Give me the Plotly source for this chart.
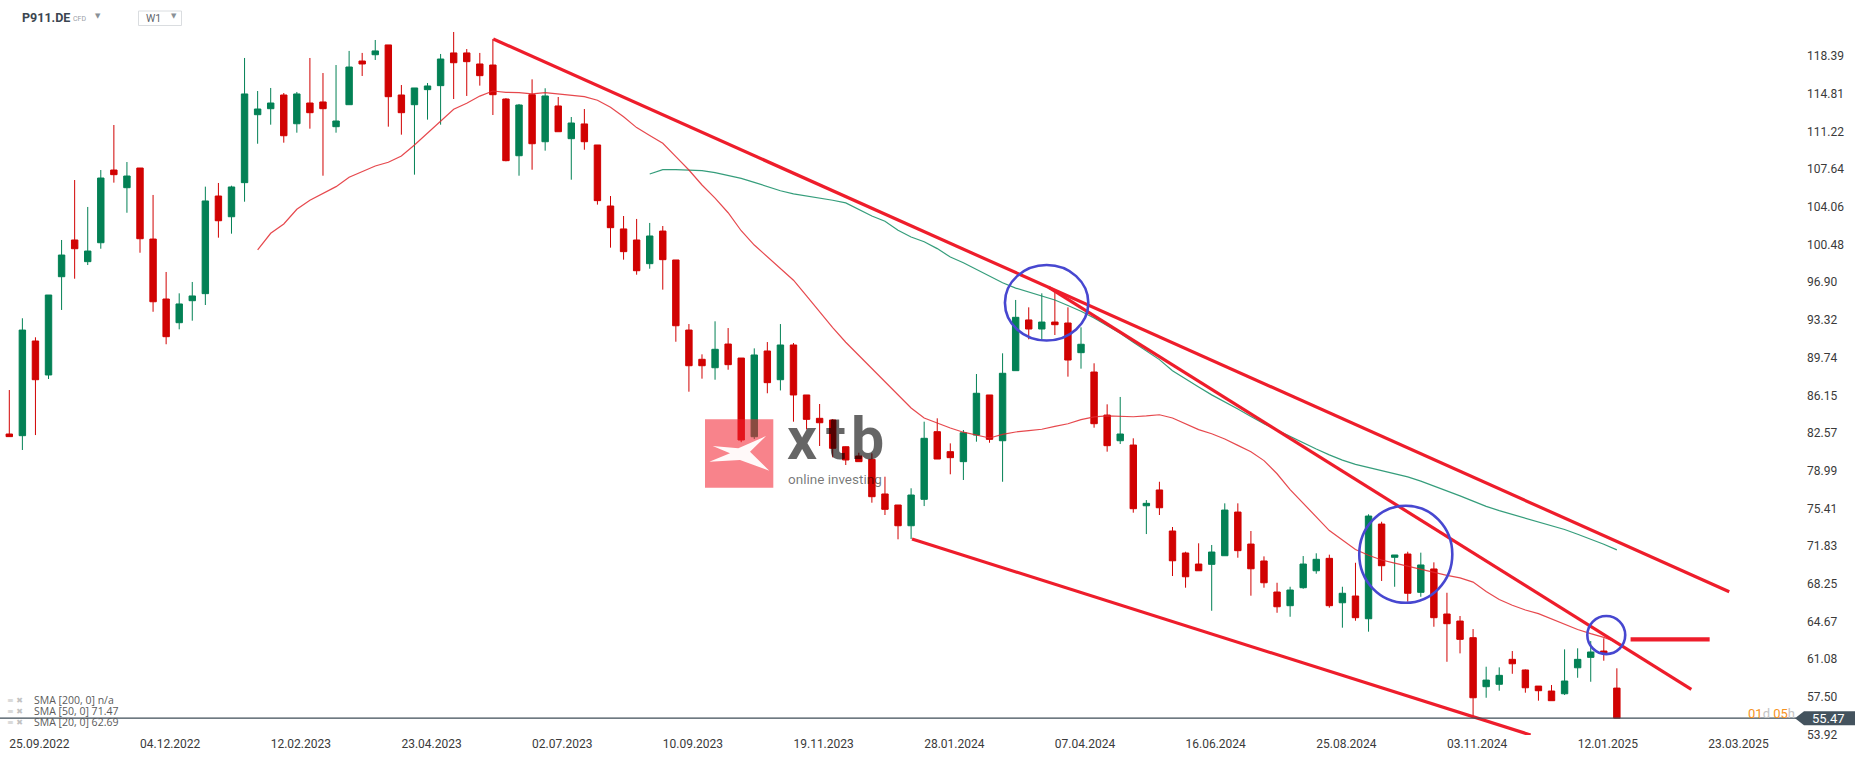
import plotly.graph_objects as go
import pandas as pd

# ---------------- data (weekly candles, P911.DE) ----------------
open_ = [82.48, 82.32, 91.32, 88.09, 97.43, 100.92, 98.86, 100.66, 107.57, 105.89,
         107.76, 101.01, 95.31, 93.06, 95.15, 95.82, 105.10, 103.13, 106.37, 112.83,
         113.40, 114.70, 111.97, 113.94, 114.04, 111.69, 113.78, 117.93, 118.53, 119.46,
         114.70, 113.78, 115.21, 115.59, 118.70, 118.70, 117.65, 117.55, 114.32, 108.93,
         114.73, 110.26, 113.66, 110.55, 111.95, 109.95, 104.15, 101.97, 100.92, 98.67,
         101.77, 99.02, 92.36, 89.58, 88.78, 91.03, 89.70, 82.22, 90.37, 87.64,
         90.94, 86.19, 83.97, 83.81, 81.27, 80.39, 80.07, 76.78, 75.73, 73.76,
         76.27, 82.70, 80.80, 79.85, 82.38, 86.19, 81.84, 88.50, 93.32, 92.46,
         93.12, 93.03, 90.21, 88.37, 84.28, 81.84, 81.43, 75.66, 77.16, 73.26,
         71.17, 70.12, 70.09, 70.91, 75.06, 72.02, 70.41, 67.46, 66.16, 67.87,
         69.48, 70.66, 66.44, 67.08, 64.92, 73.92, 70.76, 71.07, 67.43, 69.65,
         65.37, 64.70, 63.12, 58.46, 58.69, 61.06, 60.05, 58.52, 58.05, 57.79,
         60.26, 61.25, 61.85, 58.33]
high = [86.66, 93.48, 91.67, 95.69, 100.92, 106.62, 104.06, 107.57, 111.85, 108.33,
        107.76, 105.20, 97.88, 95.85, 96.93, 105.99, 106.34, 106.08, 118.22, 115.08,
        115.37, 114.89, 114.99, 118.22, 116.79, 117.55, 118.89, 118.70, 119.93, 119.46,
        115.65, 115.37, 115.84, 118.60, 120.69, 119.07, 118.70, 120.03, 114.40, 113.85,
        116.19, 115.34, 114.51, 112.61, 113.37, 109.95, 105.10, 103.20, 102.92, 102.54,
        102.25, 99.02, 92.93, 90.05, 93.19, 92.55, 89.70, 90.62, 91.22, 92.93,
        91.13, 86.19, 85.33, 83.90, 81.30, 80.70, 80.64, 78.42, 75.73, 77.32,
        83.65, 83.97, 81.59, 82.86, 88.18, 86.19, 90.15, 95.22, 94.52, 95.85,
        96.10, 94.52, 92.62, 89.20, 85.30, 86.00, 82.07, 76.20, 77.94, 73.64,
        71.29, 72.09, 71.93, 75.89, 75.89, 73.26, 70.85, 68.34, 67.96, 70.88,
        71.14, 71.01, 67.96, 70.24, 74.85, 74.14, 70.98, 71.29, 71.20, 70.28,
        67.39, 65.18, 63.94, 60.36, 60.30, 61.85, 60.10, 58.52, 58.62, 62.01,
        62.11, 62.80, 63.06, 60.21]
low = [82.20, 80.96, 82.38, 87.71, 94.27, 97.24, 98.54, 100.09, 106.37, 103.51,
       99.71, 94.10, 91.01, 92.43, 93.25, 94.74, 101.14, 101.52, 104.56, 110.07,
       111.88, 110.17, 111.12, 111.50, 107.03, 111.12, 113.78, 116.51, 118.03, 111.69,
       110.93, 107.13, 112.36, 111.88, 114.32, 114.61, 115.59, 112.80, 108.40, 107.03,
       107.60, 109.41, 111.21, 106.65, 109.50, 104.28, 100.19, 99.05, 97.62, 98.19,
       96.20, 91.25, 86.50, 87.74, 87.64, 88.59, 81.70, 82.00, 86.35, 86.62,
       83.65, 82.92, 81.34, 80.26, 79.53, 79.85, 75.95, 74.78, 72.47, 72.50,
       75.63, 80.10, 78.65, 78.11, 81.75, 81.65, 77.94, 88.50, 91.48, 91.48,
       91.89, 87.93, 88.69, 83.08, 80.80, 81.53, 75.00, 72.97, 74.78, 68.98,
       67.87, 69.48, 65.68, 70.91, 70.72, 67.11, 67.87, 65.49, 65.11, 67.77,
       69.20, 65.97, 64.07, 64.73, 63.69, 68.51, 67.96, 66.54, 67.01, 64.16,
       60.83, 61.63, 55.50, 57.41, 58.08, 59.69, 57.89, 57.13, 57.13, 57.67,
       59.31, 58.93, 60.93, 55.47]
close = [82.23, 92.36, 87.64, 95.69, 99.49, 100.09, 99.87, 106.81, 107.13, 107.00,
         101.04, 95.05, 91.73, 94.84, 95.60, 104.63, 102.75, 105.96, 114.80, 113.37,
         113.94, 110.83, 114.80, 113.02, 113.40, 112.23, 117.36, 117.65, 118.89, 114.54,
         113.02, 115.37, 115.56, 118.12, 117.77, 117.87, 116.54, 114.73, 108.46, 113.75,
         110.07, 114.61, 111.21, 112.04, 110.26, 104.66, 102.09, 99.81, 98.00, 101.30,
         99.05, 92.77, 88.97, 88.97, 90.53, 89.07, 81.91, 89.99, 87.36, 90.94,
         86.19, 83.87, 83.55, 81.12, 80.01, 79.85, 76.52, 75.32, 73.76, 76.68,
         82.07, 80.10, 80.23, 82.60, 86.35, 81.97, 88.25, 93.57, 92.46, 93.12,
         92.87, 89.51, 91.01, 83.46, 81.37, 82.48, 75.38, 75.89, 75.47, 70.43,
         68.91, 69.48, 71.26, 75.25, 71.39, 69.67, 68.34, 66.06, 67.65, 70.12,
         70.57, 66.16, 67.34, 65.02, 74.68, 69.96, 70.98, 67.34, 70.03, 65.02,
         64.45, 62.96, 57.41, 59.09, 59.54, 60.64, 58.36, 58.08, 57.13, 59.00,
         61.06, 61.76, 61.63, 55.47]

first_week = "2022-09-25"
weeks = pd.date_range(first_week, periods=len(open_), freq="7D")

# SMA 20 (from candle 19 on) and SMA 50 (from candle 49 on)
sma20_start = 19
sma20 = [99.97, 101.56, 102.44, 103.84, 104.69, 105.36, 105.99, 106.88, 107.41, 107.95,
         108.31, 108.90, 109.95, 111.06, 112.26, 113.34, 113.91, 114.60, 115.08, 114.96,
         114.93, 114.80, 114.93, 114.80, 114.67, 114.55, 114.20, 113.53, 112.64, 111.60,
         110.85, 110.11, 108.84, 107.57, 106.15, 104.90, 103.51, 101.80, 100.44, 99.33,
         98.30, 97.10, 95.60, 94.05, 92.60, 91.20, 89.95, 88.70, 87.45, 86.15,
         84.95, 84.00, 83.50, 83.05, 82.65, 82.40, 82.10, 82.45, 82.67, 82.80,
         82.93, 83.20, 83.45, 83.85, 84.10, 84.20, 84.15, 84.12, 84.20, 84.31,
         84.00, 83.45, 82.90, 82.50, 82.00, 81.40, 80.80, 79.95, 78.70, 77.20,
         75.90, 74.60, 73.30, 72.40, 71.50, 70.95, 70.50, 70.20, 69.90, 69.60,
         69.30, 69.05, 68.80, 68.40, 67.50, 66.75, 66.20, 65.75, 65.40, 64.90,
         64.35, 63.90, 63.50, 63.15, 62.69]
sma50_start = 49
sma50 = [107.19, 107.60, 107.60, 107.57, 107.51, 107.32, 107.05, 106.78, 106.40, 106.00,
         105.60, 105.30, 105.10, 104.95, 104.70, 104.45, 103.80, 103.20, 102.70, 101.85,
         101.20, 100.75, 100.10, 99.30, 98.75, 98.10, 97.45, 96.85, 96.35, 95.95,
         95.55, 95.22, 94.70, 94.15, 93.50, 92.80, 92.05, 91.20, 90.40, 89.55,
         88.50, 87.70, 86.95, 86.20, 85.55, 84.85, 84.15, 83.45, 82.85, 82.25,
         81.60, 81.05, 80.50, 80.00, 79.60, 79.30, 79.00, 78.75, 78.40, 78.00,
         77.55, 77.10, 76.60, 76.10, 75.60, 75.20, 74.85, 74.50, 74.15, 73.75,
         73.40, 72.95, 72.50, 72.00, 71.47]

# drawn trend lines: anchors in weeks since first candle, and price
trend_weeks = [[37.03, 131.6], [79.5, 128.7], [69.07, 116.4], [124.05, 130.1]]
trend_prices = [[120.03, 67.49], [96.43, 58.21], [72.50, 53.87], [62.96, 62.96]]
trend_widths = [3.2, 3.2, 3.2, 4.2]

# drawn circles: week span and price span
circle_weeks = [[76.18, 82.56], [103.29, 110.41], [120.74, 123.64]]
circle_prices = [[91.36, 98.54], [66.44, 75.66], [61.56, 65.18]]

y_ticks = [53.92, 57.50, 61.08, 64.67, 68.25, 71.83, 75.41, 78.99, 82.57, 86.15,
           89.74, 93.32, 96.90, 100.48, 104.06, 107.64, 111.22, 114.81, 118.39]
x_tick_labels = ["25.09.2022", "04.12.2022", "12.02.2023", "23.04.2023", "02.07.2023",
                 "10.09.2023", "19.11.2023", "28.01.2024", "07.04.2024", "16.06.2024",
                 "25.08.2024", "03.11.2024", "12.01.2025", "23.03.2025"]
last_price = 55.47
legend_rows = ["SMA [200, 0] n/a", "SMA [50, 0] 71.47", "SMA [20, 0] 62.69"]

# ---------------- helpers ----------------
t0 = pd.Timestamp(first_week)


def wk(w):
    return t0 + pd.to_timedelta(w * 7, unit="D")


FIG_W, FIG_H = 1866, 759
PLOT_R, Y_T, Y_B = 1798, 22, 735
PLOT_H = Y_B - Y_T
Y_MIN, Y_MAX = 53.87, 121.64
PX_PER_UNIT = PLOT_H / (Y_MAX - Y_MIN)


def px(x):
    return x / PLOT_R


def py(y):
    return (Y_B - y) / PLOT_H


GREEN = "#038155"
RED = "#D10202"
LINE_RED = "#EE1D2B"
BLUE = "#4747D0"
FONT = "Roboto"

fig = go.Figure()

fig.add_trace(go.Candlestick(
    x=weeks, open=open_, high=high, low=low, close=close,
    increasing=dict(line=dict(color=GREEN, width=1), fillcolor=GREEN),
    decreasing=dict(line=dict(color=RED, width=1), fillcolor=RED),
    whiskerwidth=0, showlegend=False, hoverinfo="skip"))

fig.add_trace(go.Scatter(x=weeks[sma50_start:sma50_start + len(sma50)], y=sma50,
                         mode="lines", line=dict(color="rgba(18,140,100,0.85)", width=1.2),
                         showlegend=False, hoverinfo="skip"))
fig.add_trace(go.Scatter(x=weeks[sma20_start:sma20_start + len(sma20)], y=sma20,
                         mode="lines", line=dict(color="rgba(226,40,46,0.85)", width=1.2),
                         showlegend=False, hoverinfo="skip"))

for tw, tp, lw in zip(trend_weeks, trend_prices, trend_widths):
    fig.add_trace(go.Scatter(x=[wk(w) for w in tw], y=tp, mode="lines",
                             line=dict(color=LINE_RED, width=lw),
                             showlegend=False, hoverinfo="skip"))

shapes = []
for cw, cp in zip(circle_weeks, circle_prices):
    shapes.append(dict(type="circle", xref="x", yref="y",
                       x0=wk(cw[0]), x1=wk(cw[1]), y0=cp[0], y1=cp[1],
                       line=dict(color=BLUE, width=2.6), layer="above"))

# current price line + label
shapes.append(dict(type="line", xref="paper", yref="y", x0=0, x1=px(1796),
                   y0=last_price, y1=last_price, line=dict(color="#3E4C57", width=1.3)))
half = 7 / PX_PER_UNIT
path = (f"M {px(1795)},{last_price} L {px(1804)},{last_price + half} "
        f"L {px(1855)},{last_price + half} L {px(1855)},{last_price - half} "
        f"L {px(1804)},{last_price - half} Z")
shapes.append(dict(type="path", xref="paper", yref="y", path=path,
                   fillcolor="#44535E", line=dict(width=0), layer="above"))

# watermark
shapes.append(dict(type="rect", xref="paper", yref="paper",
                   x0=px(705), x1=px(773.3), y0=py(487.7), y1=py(419.3),
                   fillcolor="rgba(242,34,48,0.56)", line=dict(width=0), layer="above"))
xpts = [(712.7, 446), (738.3, 448.3), (766, 436), (750, 451.7), (769.3, 470.7),
        (740, 460), (709.3, 461.7), (730, 453.3)]
xpath = "M " + " L ".join(f"{px(a)},{py(b)}" for a, b in xpts) + " Z"
shapes.append(dict(type="path", xref="paper", yref="paper", path=xpath,
                   fillcolor="rgba(255,255,255,0.95)", line=dict(width=0), layer="above"))

annotations = []
for letter, cx in [("x", 801.5), ("t", 835.5), ("b", 867.5)]:
    annotations.append(dict(xref="paper", yref="paper", x=px(cx), y=py(438),
                            text=f"<b>{letter}</b>", showarrow=False,
                            xanchor="center", yanchor="middle",
                            font=dict(family=FONT, size=59, color="rgba(0,0,0,0.6)")))
annotations.append(dict(xref="paper", yref="paper", x=px(835), y=py(478.5), text="online investing",
                        showarrow=False, xanchor="center", yanchor="middle",
                        font=dict(family=FONT, size=13.5, color="rgba(0,0,0,0.55)")))

annotations.append(dict(xref="paper", yref="y", x=px(1828), y=last_price, text="55.47",
                        showarrow=False, xanchor="center", yanchor="middle",
                        font=dict(family=FONT, size=13, color="white")))
annotations.append(dict(xref="paper", yref="paper", x=px(1797), y=py(713),
                        text=('<span style="color:#F7931E">01</span><span style="color:#C4C4C4">d</span> '
                              '<span style="color:#F7931E">05</span><span style="color:#C4C4C4">h</span>'),
                        showarrow=False, xanchor="right", yanchor="middle",
                        font=dict(family=FONT, size=13)))

# header
annotations.append(dict(xref="paper", yref="paper", x=px(20), y=py(18), text="<b>P911.DE</b>",
                        showarrow=False, xanchor="left", yanchor="middle",
                        font=dict(family=FONT, size=12.5, color="#3B4650")))
annotations.append(dict(xref="paper", yref="paper", x=px(70.5), y=py(19), text="CFD",
                        showarrow=False, xanchor="left", yanchor="middle",
                        font=dict(family=FONT, size=7, color="#9AA0A6")))
annotations.append(dict(xref="paper", yref="paper", x=px(97.5), y=py(16.5), text="▼",
                        showarrow=False, xanchor="center", yanchor="middle",
                        font=dict(family="DejaVu Sans", size=7, color="#8A9096")))
shapes.append(dict(type="rect", xref="paper", yref="paper", x0=px(138.5), x1=px(181.5),
                   y0=py(25.5), y1=py(11), line=dict(color="#DADDE0", width=1),
                   fillcolor="white"))
annotations.append(dict(xref="paper", yref="paper", x=px(143.5), y=py(18.5), text="W1",
                        showarrow=False, xanchor="left", yanchor="middle",
                        font=dict(family=FONT, size=10.5, color="#5F666C")))
annotations.append(dict(xref="paper", yref="paper", x=px(173.5), y=py(16.5), text="▼",
                        showarrow=False, xanchor="center", yanchor="middle",
                        font=dict(family="DejaVu Sans", size=7, color="#8A9096")))

# indicator legend (bottom-left)
for k, row in enumerate(legend_rows):
    yy = py(700 + 11 * k)
    annotations.append(dict(xref="paper", yref="paper", x=px(5), y=yy, text="≡ ✖",
                            showarrow=False, xanchor="left", yanchor="middle",
                            font=dict(family="DejaVu Sans", size=8, color="#C2C2C2")))
    annotations.append(dict(xref="paper", yref="paper", x=px(31.5), y=yy, text=row,
                            showarrow=False, xanchor="left", yanchor="middle",
                            font=dict(family="Open Sans", size=10.5, color="#5A5A5A")))

x_tick_vals = [wk(10 * k) for k in range(len(x_tick_labels))]

fig.update_layout(
    width=FIG_W, height=FIG_H,
    margin=dict(l=0, r=FIG_W - PLOT_R, t=Y_T, b=FIG_H - Y_B),
    paper_bgcolor="white", plot_bgcolor="white",
    shapes=shapes, annotations=annotations,
    showlegend=False,
    xaxis=dict(type="date", range=[wk(-0.712), wk(136.86)],
               rangeslider=dict(visible=False),
               tickvals=x_tick_vals, ticktext=x_tick_labels,
               ticklabelposition="outside right",
               showgrid=False, zeroline=False, showline=False, ticks="",
               tickfont=dict(family=FONT, size=12, color="#3A3A3A")),
    yaxis=dict(range=[Y_MIN, Y_MAX], side="right",
               tickvals=y_ticks, ticktext=[f"{v:.2f}" for v in y_ticks],
               showgrid=False, zeroline=False, showline=False, ticks="",
               ticklabelstandoff=8,
               tickfont=dict(family=FONT, size=12, color="#3A3A3A")),
)

fig.write_html("out.html", config={"displayModeBar": False},
               post_script="document.body.style.margin='0';document.body.style.padding='0';")
